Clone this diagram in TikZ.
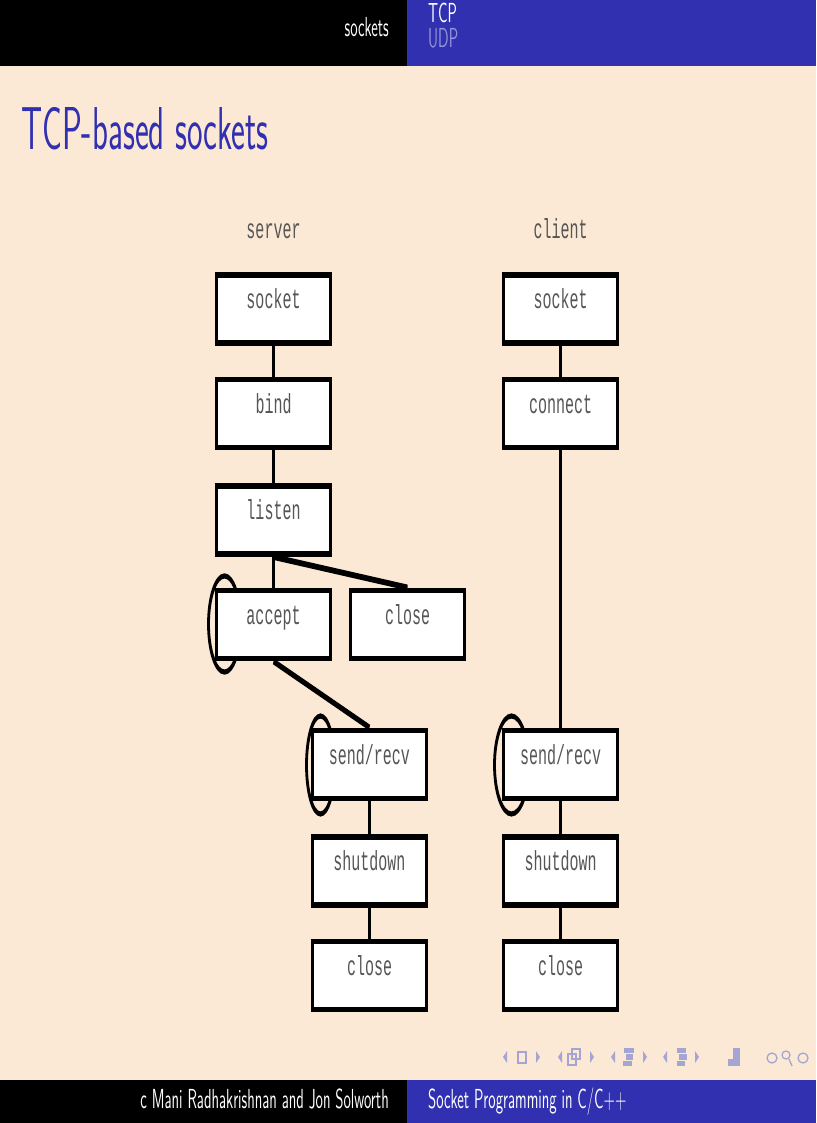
\documentclass[tikz,border=0pt]{standalone}
\usepackage{fontspec}
\newfontfamily\boxfont{Liberation Mono}
\definecolor{bgpeach}{RGB}{252,233,213}
\definecolor{beamerblue}{RGB}{48,48,176}
\definecolor{udpcol}{RGB}{150,150,215}
\definecolor{navcol}{RGB}{165,165,212}
\definecolor{boxtext}{RGB}{85,85,85}
\tikzset{
  stepbox/.style={draw=black, fill=white, line width=3pt, minimum width=114pt,
    minimum height=37.3pt, inner sep=0pt, text height=8pt, text depth=8pt,
    font=\boxfont\fontsize{15}{18}\selectfont, text=boxtext},
  colhead/.style={inner sep=0pt, font=\boxfont\fontsize{15}{18}\selectfont, text=boxtext},
  hdrtext/.style={inner sep=0pt, font=\sffamily\fontsize{15}{17}\selectfont, text=white},
  titletext/.style={inner sep=0pt, font=\sffamily\fontsize{33}{36}\selectfont, text=beamerblue},
  link/.style={draw=black, line width=3pt},
  diag/.style={draw=black, line width=3.2pt},
  looppath/.style={draw=black, line width=2.8pt},
  navshape/.style={fill=navcol, draw=none},
  navline/.style={draw=navcol, line width=1.3pt}
}
\begin{document}
\begin{tikzpicture}[x=1pt,y=-1pt]
\useasboundingbox (0,0) rectangle (816,1123);
\fill[bgpeach] (0,0) rectangle (816,1123);
% header and footer bars
\fill[black] (0,0) rectangle (407,66);
\fill[beamerblue] (407,0) rectangle (816,66);
\fill[black] (0,1080) rectangle (407,1123);
\fill[beamerblue] (407,1080) rectangle (816,1123);
% navigation symbols
\fill[navshape] (507,1051) -- (503,1057) -- (507,1063) -- cycle;
\draw[navline] (518,1052) rectangle (526,1063);
\fill[navshape] (536,1051) -- (540,1057) -- (536,1063) -- cycle;
\fill[navshape] (562,1051) -- (558,1057) -- (562,1063) -- cycle;
\draw[navline] (572,1049) rectangle (580,1059);
\draw[navline] (568,1054) rectangle (576,1065);
\fill[navshape] (590,1051) -- (594,1057) -- (590,1063) -- cycle;
\fill[navshape] (615,1051) -- (611,1057) -- (615,1063) -- cycle;
\fill[navshape] (624,1048) rectangle (634,1053);
\fill[navshape] (626,1054) rectangle (633,1060);
\fill[navshape] (623,1061) rectangle (632,1066);
\fill[navshape] (643,1051) -- (647,1057) -- (643,1063) -- cycle;
\fill[navshape] (667,1051) -- (663,1057) -- (667,1063) -- cycle;
\fill[navshape] (677,1048) rectangle (686,1053);
\fill[navshape] (679,1054) rectangle (687,1060);
\fill[navshape] (677,1061) rectangle (685,1066);
\fill[navshape] (695,1051) -- (699,1057) -- (695,1063) -- cycle;
\fill[navshape] (733,1048) rectangle (740,1060);
\fill[navshape] (728,1059) rectangle (740,1066);
\draw[navline] (772,1058) circle (5pt);
\draw[navline] (786,1055) circle (4pt);
\draw[navline] (789,1059) -- (792,1066);
\draw[navline] (803,1058) circle (5pt);
\begin{scope}[transform canvas={yscale=1.835}, x=1pt, y=-0.54496pt]
  % header / title / footer texts
  \node[hdrtext, anchor=base east] (hsock) at (389,37) {sockets};
  \node[hdrtext, anchor=base west] (htcp) at (428,23) {TCP};
  \node[hdrtext, anchor=base west, text=udpcol] (hudp) at (428,48) {UDP};
  \node[titletext, anchor=base west] (ttl) at (21,150) {TCP-based sockets};
  \node[hdrtext, anchor=base east] (fauth) at (389,1108) {c Mani Radhakrishnan and Jon Solworth};
  \node[hdrtext, anchor=base west] (ftitle) at (428,1108) {Socket Programming in C/C++};
  % column headings
  \node[colhead, anchor=base] (lserver) at (273.5,239) {server};
  \node[colhead, anchor=base] (lclient) at (560.5,239) {client};
  % loops (behind boxes)
  \draw[looppath] (224.5,624) ellipse [x radius=16pt, y radius=26.2pt];
  \draw[looppath] (320.5,765) ellipse [x radius=14pt, y radius=26.7pt];
  \draw[looppath] (511.5,765) ellipse [x radius=17pt, y radius=26.7pt];
  % server boxes
  \node[stepbox] (sockS) at (273.5,309) {socket};
  \node[stepbox] (bindS) at (273.5,413.5) {bind};
  \node[stepbox] (listenS) at (273.5,520) {listen};
  \node[stepbox] (acceptS) at (273.5,624.5) {accept};
  \node[stepbox] (closeA) at (407.5,624.5) {close};
  \node[stepbox] (sendS) at (369.5,764.5) {send/recv};
  \node[stepbox] (shutS) at (369.5,871) {shutdown};
  \node[stepbox] (closeS) at (369.5,975.5) {close};
  % client boxes
  \node[stepbox] (sockC) at (560.5,309) {socket};
  \node[stepbox] (connC) at (560.5,413.5) {connect};
  \node[stepbox] (sendC) at (560.5,764.5) {send/recv};
  \node[stepbox] (shutC) at (560.5,871) {shutdown};
  \node[stepbox] (closeC) at (560.5,975.5) {close};
  % server connectors
  \draw[link] (sockS.south) -- (bindS.north);
  \draw[link] (bindS.south) -- (listenS.north);
  \draw[link] (listenS.south) -- (acceptS.north);
  \draw[diag] (listenS.south) -- (closeA.north);
  \draw[diag] (acceptS.south) -- (sendS.north);
  \draw[link] (sendS.south) -- (shutS.north);
  \draw[link] (shutS.south) -- (closeS.north);
  % client connectors
  \draw[link] (sockC.south) -- (connC.north);
  \draw[link] (connC.south) -- (sendC.north);
  \draw[link] (sendC.south) -- (shutC.north);
  \draw[link] (shutC.south) -- (closeC.north);
\end{scope}
\end{tikzpicture}
\end{document}
